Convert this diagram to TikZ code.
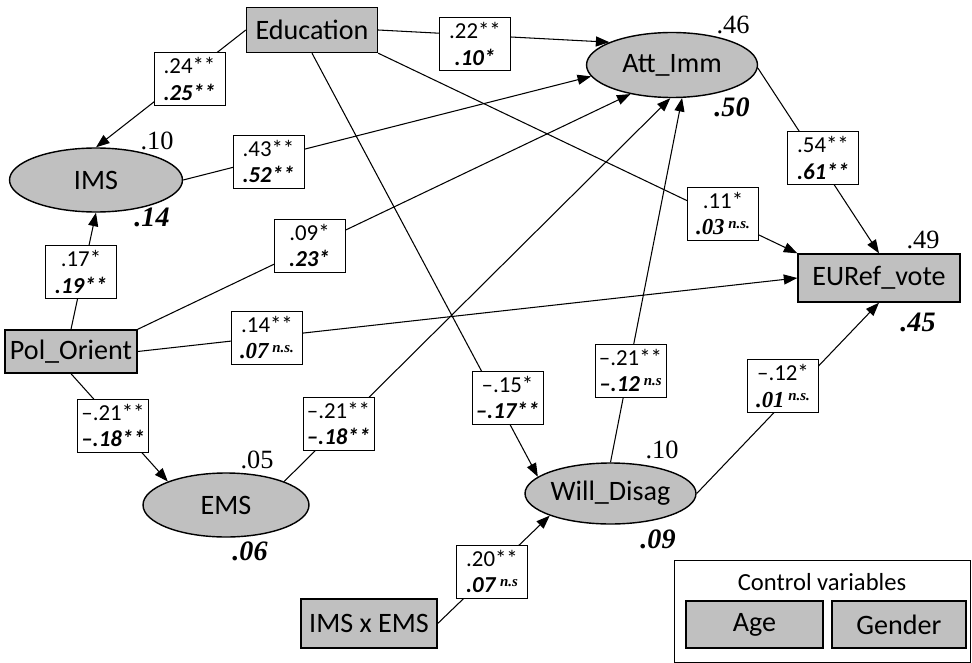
\documentclass[tikz,border=0pt]{standalone}
\usepackage{fontspec}
\setmainfont{Carlito}
\newfontfamily\timesfont{Liberation Serif}
\usepackage{xcolor}
\usepackage{tikz}
\usetikzlibrary{shapes.geometric, arrows.meta, positioning}
\definecolor{varfill}{RGB}{192,192,192}
\tikzstyle{arrow} = [line width=0.6pt, -{Triangle[length=0.27cm,width=0.2cm]}]
\tikzstyle{obsbox} = [draw, line width=0.8pt, fill=varfill, rectangle, inner sep=0pt, font=\fontsize{16}{18}\selectfont]
\tikzstyle{latent} = [draw, line width=0.8pt, fill=varfill, ellipse, inner sep=0pt, font=\fontsize{16}{18}\selectfont]
\tikzstyle{coef} = [draw, line width=0.5pt, fill=white, align=center, inner sep=1pt, minimum width=1.42cm, minimum height=1.06cm, font=\fontsize{13}{15}\selectfont]
\tikzstyle{rsq} = [inner sep=0pt, font=\timesfont\fontsize{15}{18}\selectfont]
\tikzstyle{rsqb} = [inner sep=0pt, font=\timesfont\fontsize{16}{18}\selectfont\bfseries\itshape]
\newcommand{\cf}[2]{#1\\\textbf{\textit{#2}}}
\newcommand{\tbi}[1]{{\timesfont\bfseries\itshape #1}}
\newcommand{\nsup}[1]{\raisebox{0.6ex}{\timesfont\fontsize{8.5}{8.5}\selectfont\bfseries\itshape #1}}

\begin{document}
\begin{tikzpicture}[x=0.02cm, y=-0.02cm]
    \useasboundingbox (0,0) rectangle (972,662);

    % Variables
    \node[obsbox, minimum width=2.62cm, minimum height=0.9cm] (edu) at (312,30) {Education};
    \node[latent, minimum width=3.46cm, minimum height=1.28cm] (ims) at (96,180) {IMS};
    \node[latent, minimum width=3.42cm, minimum height=1.3cm] (att) at (672,65) {Att\_Imm};
    \node[obsbox, minimum width=3.24cm, minimum height=0.96cm] (eur) at (879,278) {EURef\_vote};
    \node[obsbox, minimum width=2.64cm, minimum height=0.86cm] (pol) at (71,351.5) {Pol\_Orient};
    \node[latent, minimum width=3.32cm, minimum height=1.28cm] (ems) at (226,505) {EMS};
    \node[latent, minimum width=3.42cm, minimum height=1.22cm] (will) at (610.5,493.5) {Will\_Disag};
    \node[obsbox, minimum width=2.72cm, minimum height=0.98cm] (ixe) at (369,623.5) {IMS x EMS};

    % R squared
    \node[rsq] (r2ims) at (157,141) {.10};
    \node[rsqb] (r2imsb) at (152,217) {.14};
    \node[rsq] (r2att) at (733,25) {.46};
    \node[rsqb] (r2attb) at (732,107) {.50};
    \node[rsq] (r2eur) at (923,240) {.49};
    \node[rsqb] (r2eurb) at (918,322) {.45};
    \node[rsq] (r2ems) at (257,460) {.05};
    \node[rsqb] (r2emsb) at (250,551) {.06};
    \node[rsq] (r2will) at (662,450) {.10};
    \node[rsqb] (r2willb) at (658,539) {.09};

    % Paths
    \draw[arrow] (edu.west) -- (ims.north);
    \draw[arrow] (edu.east) -- (att.160);
    \draw[arrow] (edu.south east) -- (eur.north west);
    \draw[arrow] (edu.south) -- (will.167);
    \draw[arrow] (ims.east) -- (att.188);
    \draw[arrow] (pol.north) -- (ims.south);
    \draw[arrow] (pol.north east) -- (att.215);
    \draw[arrow] (pol.east) -- (eur.west);
    \draw[arrow] (pol.south) -- (ems.158);
    \draw[arrow] (ems.22) -- (att.267);
    \draw[arrow] (will.north) -- (att.287);
    \draw[arrow] (will.east) -- (eur.south);
    \draw[arrow] (att.358) -- (eur.north);
    \draw[arrow] (ixe.east) -- (will.200);

    % Coefficients
    \node[coef] (c1) at (189.5,79) {\cf{.24**}{.25**}};
    \node[coef] (c2) at (475,44) {\cf{.22**}{.10*}};
    \node[coef] (c3) at (268.5,161.5) {\cf{.43**}{.52**}};
    \node[coef] (c4) at (723,213.5) {.11*\\\tbi{.03}\,\nsup{n.s.}};
    \node[coef] (c5) at (823,158) {\cf{.54**}{.61**}};
    \node[coef] (c6) at (81,272) {\cf{.17*}{.19**}};
    \node[coef] (c7) at (309.5,245.5) {\cf{.09*}{.23*}};
    \node[coef] (c8) at (267,337.5) {.14**\\\tbi{.07}\,\nsup{n.s.}};
    \node[coef] (c9) at (113,425.5) {\cf{--.21**}{--.18**}};
    \node[coef] (c10) at (338.5,423.5) {\cf{--.21**}{--.18**}};
    \node[coef] (c11) at (507.5,397.5) {\cf{--.15*}{--.17**}};
    \node[coef] (c12) at (630.5,370.5) {--.21**\\\textbf{\textit{--.12}}\,\nsup{n.s}};
    \node[coef] (c13) at (783,386) {--.12*\\\tbi{.01}\,\nsup{n.s.}};
    \node[coef] (c14) at (492,571.5) {.20**\\\textbf{\textit{.07}}\,\nsup{n.s}};

    % Controls
    \node[draw, line width=0.6pt, anchor=north west, minimum width=5.92cm, minimum height=2.04cm] (ctrl) at (674,560) {};
    \node[font=\fontsize{14}{16}\selectfont] (ctrltitle) at (822,582) {Control variables};
    \node[obsbox, minimum width=2.74cm, minimum height=0.94cm] (age) at (754.5,624.5) {Age};
    \node[obsbox, minimum width=2.68cm, minimum height=0.94cm] (gender) at (899,624.5) {Gender};
\end{tikzpicture}
\end{document}
